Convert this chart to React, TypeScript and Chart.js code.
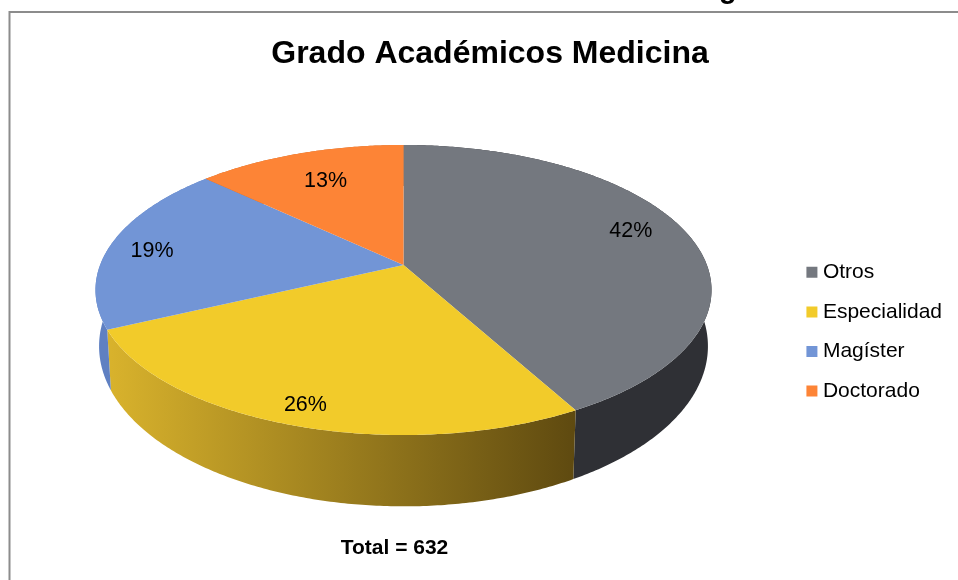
import React, { useEffect, useRef } from "react";
import { Chart, registerables, PieController, ArcElement } from "chart.js";

const categories = ["Otros", "Especialidad", "Magíster", "Doctorado"];
const shares = [42, 26, 19, 13];
const sliceColors = ["#74787f", "#f2cb2a", "#7295d6", "#fd8436"];
const wallColors = [
  ["#2f3035", "#2f3035"],
  ["#d8b22c", "#5f4a10"],
  ["#5f80c2", "#5f80c2"],
  ["#c96a2b", "#c96a2b"],
];
const chartTitle = "Grado Académicos Medicina";
const footNote = "Total = 632";
const headingTail = "g";

// projection of the round pie onto the tilted view: top face and lower rim
const VIEW = { cx: 403.5, cy: 265, a: 303.4, b: 140.7, k: 0.1724 };
const RIM = { cx: 403.5, cy: 319, a: 300, b: 155.5, k: 0.17 };
const LABEL_PLACE = [
  { r: 0.82, da: -3.3 },
  { r: 0.893, da: 0 },
  { r: 0.85, da: -2 },
  { r: 0.72, da: 0 },
];

function project(view: typeof VIEW, angle: number, r = 1) {
  const u = Math.cos(angle) * r;
  const v = Math.sin(angle) * r;
  const d = 1 - view.k * v;
  return { x: view.cx + (view.a * u) / d, y: view.cy + (view.b * v) / d };
}

function arcPoints(view: typeof VIEW, start: number, end: number) {
  const n = Math.max(2, Math.ceil(Math.abs(end - start) / 0.01));
  const pts = [];
  for (let i = 0; i <= n; i++) pts.push(project(view, start + ((end - start) * i) / n));
  return pts;
}

class Arc3D extends ArcElement {
  static id = "arc3d";
  draw(ctx: CanvasRenderingContext2D) {
    const { startAngle, endAngle } = this.getProps(["startAngle", "endAngle"], true) as any;
    ctx.save();
    ctx.beginPath();
    ctx.moveTo(VIEW.cx, VIEW.cy);
    for (const p of arcPoints(VIEW, startAngle, endAngle)) ctx.lineTo(p.x, p.y);
    ctx.closePath();
    ctx.fillStyle = (this as any).options.backgroundColor;
    ctx.fill();
    ctx.restore();
  }
}

class Pie3D extends PieController {
  static id = "pie3d";
  static defaults = { dataElementType: "arc3d" };
  draw() {
    const ctx = this.chart.ctx;
    const els = (this as any)._cachedMeta.data;
    els.forEach((el: any, i: number) => {
      const top = arcPoints(VIEW, el.startAngle, el.endAngle);
      const rim = arcPoints(RIM, el.startAngle, el.endAngle);
      const grad = ctx.createLinearGradient(
        Math.min(...rim.map((p) => p.x)), 0,
        Math.max(...rim.map((p) => p.x)), 0
      );
      grad.addColorStop(0, wallColors[i][0]);
      grad.addColorStop(1, wallColors[i][1]);
      ctx.save();
      ctx.beginPath();
      top.forEach((p, j) => {
        if (j === 0) ctx.moveTo(p.x, p.y);
        else ctx.lineTo(p.x, p.y);
      });
      for (let j = rim.length - 1; j >= 0; j--) ctx.lineTo(rim[j].x, rim[j].y);
      ctx.closePath();
      ctx.fillStyle = grad;
      ctx.fill();
      ctx.restore();
    });
    super.draw();
  }
}

Chart.register(...registerables, Arc3D as any, Pie3D as any);

const decorations = {
  id: "decorations",
  beforeDraw(chart: any) {
    const ctx = chart.ctx;
    ctx.save();
    ctx.fillStyle = "#fff";
    ctx.fillRect(0, 0, chart.width, chart.height);
    ctx.strokeStyle = "#8c8c8c";
    ctx.lineWidth = 2;
    ctx.beginPath();
    ctx.moveTo(9.5, chart.height);
    ctx.lineTo(9.5, 12);
    ctx.lineTo(chart.width, 12);
    ctx.stroke();
    ctx.fillStyle = "#000";
    ctx.font = 'bold 29px "Liberation Sans"';
    ctx.textAlign = "left";
    ctx.textBaseline = "alphabetic";
    ctx.fillText(headingTail, 719, -2);
    ctx.restore();
  },
  afterDatasetsDraw(chart: any) {
    const ctx = chart.ctx;
    const els = chart.getDatasetMeta(0).data;
    ctx.save();
    ctx.fillStyle = "#000";
    ctx.font = '21.5px "Liberation Sans"';
    ctx.textAlign = "center";
    ctx.textBaseline = "middle";
    els.forEach((el: any, i: number) => {
      const mid = (el.startAngle + el.endAngle) / 2 + (LABEL_PLACE[i].da * Math.PI) / 180;
      const p = project(VIEW, mid, LABEL_PLACE[i].r);
      ctx.fillText(`${shares[i]}%`, p.x, p.y);
    });
    ctx.font = 'bold 21px "Liberation Sans"';
    ctx.fillText(footNote, 394.5, 548);
    ctx.restore();
  },
};

export default function App() {
  const ref = useRef<HTMLCanvasElement>(null);
  useEffect(() => {
    const chart = new Chart(ref.current as HTMLCanvasElement, {
      type: "pie3d" as any,
      data: {
        labels: categories,
        datasets: [{ data: shares, backgroundColor: sliceColors, borderWidth: 0 }],
      },
      options: {
        responsive: false,
        animation: false,
        layout: { padding: { left: 28, right: 6, top: 0, bottom: 0 } },
        plugins: {
          title: {
            display: true,
            text: chartTitle,
            color: "#000",
            font: { family: '"Liberation Sans"', size: 32, weight: "bold" },
            padding: { top: 35, bottom: 10 },
          },
          legend: {
            position: "right",
            fullSize: false,
            labels: {
              color: "#000",
              font: { family: '"Liberation Sans"', size: 21 },
              usePointStyle: true,
              pointStyle: "rect",
              boxWidth: 1,
              boxHeight: 11,
              padding: 18.6,
            },
          },
          tooltip: { enabled: false },
        },
      } as any,
      plugins: [decorations],
    });
    return () => chart.destroy();
  }, []);
  return (
    <div style={{ position: "fixed", left: 0, top: 0, width: 958, height: 580, overflow: "hidden" }}>
      <canvas ref={ref} width={958} height={580} style={{ display: "block" }} />
    </div>
  );
}
